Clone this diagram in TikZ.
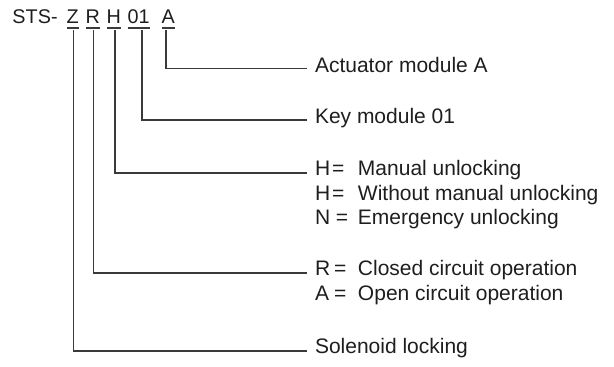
\documentclass[tikz,border=0pt]{standalone}
\usepackage{fontspec}
\setmainfont{Liberation Sans}
\definecolor{ink}{HTML}{1E1E1E}
\definecolor{wire}{HTML}{3A3A3A}
\begin{document}
\begin{tikzpicture}[x=1pt,y=-1pt,
  every node/.style={font=\fontsize{21pt}{24.5pt}\selectfont, text=ink, inner sep=0pt, outer sep=0pt},
  code/.style={anchor=base west, font=\fontsize{19.8pt}{23pt}\selectfont},
  desc/.style={anchor=mid west},
  wirel/.style={draw=wire, line width=1.1pt},
  uline/.style={draw=wire, line width=1.1pt}]
\useasboundingbox (0,0) rectangle (614,367);
% title
\node[code] (sts) at (12.5,23.5) {STS-};
\node[code] (zc) at (66.5,23.5) {Z};
\node[code] (rc) at (85.5,23.5) {R};
\node[code] (hc) at (106.5,23.5) {H};
\node[code] (nc) at (127.5,23.5) {01};
\node[code] (ac) at (161.5,23.5) {A};
\foreach \n in {zc,rc,hc,nc,ac}
  \draw[uline] ([yshift=-4.5pt]\n.base west) -- ([yshift=-4.5pt]\n.base east);
% start points of the leaders
\coordinate (zl) at (73.5,30);
\coordinate (rl) at (93.5,30);
\coordinate (hl) at (115,30);
\coordinate (nl) at (142,30);
\coordinate (al) at (166,30);
% descriptions
\node[desc] (ta) at (315,69.5) {Actuator module A};
\node[desc] (tn) at (315,121) {Key module 01};
\node[desc] (th1) at (315,173) {\makebox[43pt][l]{H\kern2pt=}Manual unlocking};
\node[desc] (th2) at (315,197.5) {\makebox[43pt][l]{H\kern2pt=}Without manual unlocking};
\node[desc] (th3) at (315,222) {\makebox[43pt][l]{N =}Emergency unlocking};
\node[desc] (tr1) at (315,273) {\makebox[43pt][l]{R\kern4pt=}Closed circuit operation};
\node[desc] (tr2) at (315,297.5) {\makebox[43pt][l]{A\kern5pt=}Open circuit operation};
\node[desc] (tz) at (315,351) {Solenoid locking};
% leaders
\draw[wirel] (al) |- ([xshift=-8pt,yshift=1.3pt]ta.mid west);
\draw[wirel] (nl) |- ([xshift=-8pt,yshift=1pt]tn.mid west);
\draw[wirel] (hl) |- ([xshift=-8pt]th1.mid west);
\draw[wirel] (rl) |- ([xshift=-8pt]tr1.mid west);
\draw[wirel] (zl) |- ([xshift=-8pt]tz.mid west);
\end{tikzpicture}
\end{document}
